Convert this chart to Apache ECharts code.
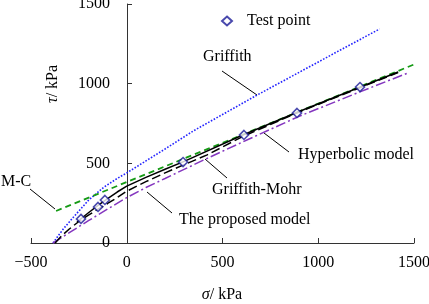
<!DOCTYPE html>
<html>
<head>
<meta charset="utf-8">
<script src="https://cdn.jsdelivr.net/npm/echarts@6/dist/echarts.min.js"></script>
<style>
  html, body { margin: 0; padding: 0; background: #fff; }
  #chart { width: 429px; height: 304px; }
</style>
</head>
<body>
<div id="chart"></div>
<script>
// test points (sigma, tau in kPa)
const testSigma = [-239, -150, -114, 294, 612, 889, 1218];
const testTau = [151, 226, 270, 508, 678, 816, 979];

// Griffith criterion
const griffithSigma = [-385, -360, -330, -280, -200, -120, -50, 0, 100, 200, 350, 680, 900, 1100, 1320];
const griffithTau = [0, 42, 90, 160, 268, 350, 405, 440, 515, 590, 705, 928, 1071, 1201, 1343];

// Mohr-Coulomb line
const mcSigma = [-369, 1560];
const mcTau = [201, 1150];

// proposed model
const propSigma = [-260, -200, -150, -100, -50, 0, 100, 200, 300, 600, 900, 1200, 1417];
const propTau = [132, 190, 236, 278, 320, 357, 412, 463, 512, 675, 825, 970, 1073];

// hyperbolic model
const hypSigma = [-374, -340, -300, -250, -200, -150, -100, -50, 0, 100, 200, 300, 420, 600, 900, 1200, 1417];
const hypTau = [0, 45, 88, 135, 175, 212, 248, 285, 325, 385, 440, 492, 553, 665, 822, 966, 1070];

// Griffith-Mohr
const gmSigma = [-385, -300, -200, -100, 0, 100, 200, 400, 630, 900, 1200, 1470];
const gmTau = [0, 65, 140, 213, 285, 348, 405, 520, 648, 795, 940, 1068];

const xTicks = { min: -500, max: 1500, step: 500 };
const yTicks = { min: 0, max: 1500, step: 500 };

const zip = (xs, ys) => xs.map((x, i) => [x, ys[i]]);
const serif = '"Liberation Serif", "DejaVu Serif", serif';

const chart = echarts.init(document.getElementById('chart'), null, { renderer: 'canvas' });

function curve(name, xs, ys, color, type, width) {
  return {
    name: name, type: 'line', data: zip(xs, ys), symbol: 'none',
    smooth: false, clip: false, silent: true,
    lineStyle: { color: color, type: type, width: width }
  };
}

// annotations: text + leader line, pixel layout
const notes = [
  { text: 'Griffith', x: 203, y: 57, line: [222, 71, 257, 95] },
  { text: 'M-C', x: 1, y: 182, line: [30, 189, 55, 209] },
  { text: 'Hyperbolic model', x: 298, y: 155, line: [264, 133, 289, 152] },
  { text: 'Griffith-Mohr', x: 212, y: 190, line: [205, 159, 227, 178] },
  { text: 'The proposed model', x: 179, y: 220, line: [147, 192, 172, 213] }
];

const graphics = [];
notes.forEach(n => {
  graphics.push({
    type: 'text', x: n.x, y: n.y, silent: true,
    style: { text: n.text, fill: '#000', font: '16px ' + serif, verticalAlign: 'middle', align: 'left' }
  });
  graphics.push({
    type: 'line', silent: true,
    shape: { x1: n.line[0], y1: n.line[1], x2: n.line[2], y2: n.line[3] },
    style: { stroke: '#000', lineWidth: 1 }
  });
});
// axis names
graphics.push({
  type: 'text', x: 53, y: 84, rotation: Math.PI / 2, silent: true,
  style: {
    text: '{i|τ}/ kPa', align: 'center', verticalAlign: 'middle', fill: '#000',
    font: '16px ' + serif,
    rich: { i: { fontStyle: 'italic', fontSize: 16, fontFamily: serif } }
  }
});
graphics.push({
  type: 'text', x: 222, y: 295, silent: true,
  style: {
    text: '{i|σ}/ kPa', align: 'center', verticalAlign: 'middle', fill: '#000',
    font: '16px ' + serif,
    rich: { i: { fontStyle: 'italic', fontSize: 16, fontFamily: serif } }
  }
});

const axisCommon = {
  type: 'value',
  splitLine: { show: false },
  axisLine: { show: true, onZero: false, lineStyle: { color: '#333', width: 1 } },
  axisTick: { show: true, inside: true, length: 5, lineStyle: { color: '#333' } },
  axisLabel: { color: '#000', fontSize: 16, fontFamily: serif }
};

chart.setOption({
  animation: false,
  backgroundColor: '#fff',
  grid: { left: 31, right: 15, top: 4, bottom: 61, outerBoundsMode: 'none' },
  legend: {
    data: ['Test point'], left: 216, top: 8, itemWidth: 10, itemHeight: 9,
    textStyle: { color: '#000', fontSize: 16, fontFamily: serif, padding: [0, 0, 0, 10] }
  },
  xAxis: Object.assign({}, axisCommon, {
    min: xTicks.min, max: xTicks.max, interval: xTicks.step,
    axisLabel: Object.assign({}, axisCommon.axisLabel, {
      margin: 12,
      formatter: v => String(v).replace('-', '\u2212')
    })
  }),
  yAxis: Object.assign({}, axisCommon, {
    min: yTicks.min, max: yTicks.max, interval: yTicks.step,
    offset: -96,
    axisLabel: Object.assign({}, axisCommon.axisLabel, { margin: 17, formatter: v => String(v) })
  }),
  graphic: graphics,
  series: [
    curve('Griffith', griffithSigma, griffithTau, '#2424ff', 'dotted', 1.6),
    curve('M-C', mcSigma, mcTau, '#159a15', [6, 4], 1.8),
    curve('Griffith-Mohr', gmSigma, gmTau, '#8436bf', [10, 3, 2, 3], 1.5),
    curve('Hyperbolic model', hypSigma, hypTau, '#000', [9, 4], 1.5),
    curve('The proposed model', propSigma, propTau, '#000', 'solid', 1.5),
    {
      name: 'Test point', type: 'scatter', data: zip(testSigma, testTau),
      symbol: 'diamond', symbolSize: 9, z: 5,
      itemStyle: { color: '#fff', borderColor: '#1c1c99', borderWidth: 1.6 }
    }
  ]
});
</script>
</body>
</html>
